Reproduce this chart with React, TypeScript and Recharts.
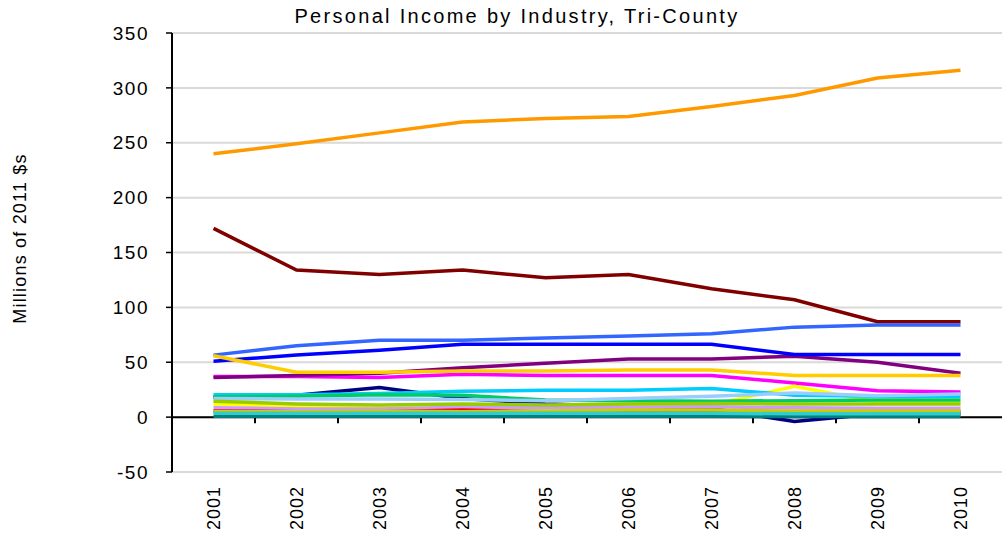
import { LineChart, Line, XAxis, YAxis, CartesianGrid, ReferenceLine } from 'recharts';

// Ingresos personales por industria, millones de $ de 2011
const years = ['2001', '2002', '2003', '2004', '2005', '2006', '2007', '2008', '2009', '2010'];
const yTicks = [-50, 0, 50, 100, 150, 200, 250, 300, 350];
const betweenTicks = [1, 2, 3, 4, 5, 6, 7, 8, 9];

const mining = [18, 20, 27, 17, 12, 10, 8, -4, 3, 3];
const retail = [37, 37, 36, 39, 38, 38, 38, 31, 24, 23];
const utilities = [12, 9.5, 9.5, 10, 10, 10, 11, 28, 13.5, 13];
const healthCare = [36, 38, 40, 45, 49, 53, 53, 55.5, 50, 40];
const farming = [172, 134, 130, 134, 127, 130, 117, 107, 87, 87];
const forestry = [0.8, 0.8, 0.8, 0.8, 0.8, 0.8, 0.8, 0.5, 0.5, 0.5];
const manufacturing = [51, 56.5, 61, 66.5, 66.5, 66.5, 66.5, 57, 57, 57];
const wholesale = [20.5, 20.5, 21.5, 23.5, 24.5, 24.5, 26, 20, 19, 19];
const transportation = [18.5, 19, 20.5, 20, 15.5, 15, 14.5, 15, 15.5, 15.5];
const finance = [17, 16.5, 16.5, 16, 15, 17, 19, 22, 19.5, 21];
const realEstate = [8.5, 7.5, 7.5, 9, 8.5, 9, 9.5, 8.5, 8, 8];
const information = [5.5, 5, 5, 6.5, 5, 5, 5, 5, 5, 5];
const professional = [5, 5, 5.5, 5, 5.5, 6.5, 6.5, 5.5, 5.5, 5.5];
const construction = [56.5, 65, 70, 70, 72, 74, 76, 82, 84, 84];
const arts = [3.5, 3.5, 3.5, 3.5, 3.5, 3.5, 3.5, 3, 3, 3];
const accommodation = [14.5, 12, 11, 12, 11, 12, 12.5, 12, 12, 12];
const otherServices = [56, 41, 41, 42, 42, 43, 43, 38, 38, 38];
const government = [240, 249, 259, 269, 272, 274, 283, 293, 309, 316];

const series = [
  { clave: 'mining', valores: mining, color: '#000080' },
  { clave: 'retail', valores: retail, color: '#FF00FF' },
  { clave: 'utilities', valores: utilities, color: '#FFFF00' },
  { clave: 'healthCare', valores: healthCare, color: '#800080' },
  { clave: 'farming', valores: farming, color: '#800000' },
  { clave: 'forestry', valores: forestry, color: '#008080' },
  { clave: 'manufacturing', valores: manufacturing, color: '#0000FF' },
  { clave: 'wholesale', valores: wholesale, color: '#00CCFF' },
  { clave: 'transportation', valores: transportation, color: '#00CC66' },
  { clave: 'finance', valores: finance, color: '#99CCFF' },
  { clave: 'realEstate', valores: realEstate, color: '#CC99FF' },
  { clave: 'information', valores: information, color: '#FF0000' },
  { clave: 'professional', valores: professional, color: '#CCCC00' },
  { clave: 'construction', valores: construction, color: '#3366FF' },
  { clave: 'arts', valores: arts, color: '#33CCCC' },
  { clave: 'accommodation', valores: accommodation, color: '#99CC00' },
  { clave: 'otherServices', valores: otherServices, color: '#FFCC00' },
  { clave: 'government', valores: government, color: '#FF9900' },
];

const datos = years.map((year, i) => {
  const fila: Record<string, any> = { year, marca: i + 0.5 };
  series.forEach((s) => {
    fila[s.clave] = s.valores[i];
  });
  return fila;
});

const fuente = '"Liberation Sans", Arial, sans-serif';

const YearTick = (props: any) => {
  const { x, y, payload } = props;
  return (
    <text
      x={x}
      y={y + 6}
      transform={`rotate(-90, ${x}, ${y + 6})`}
      textAnchor="end"
      dy="0.36em"
      fontSize={18}
      letterSpacing={1}
      fill="#000"
      fontFamily={fuente}
    >
      {payload.value}
    </text>
  );
};

export default function App() {
  return (
    <div style={{ position: 'absolute', left: 0, top: 0, width: 1002, height: 541, background: '#fff' }}>
      <div
        style={{
          position: 'absolute',
          top: 5,
          left: 16,
          width: 1002,
          textAlign: 'center',
          fontFamily: fuente,
          fontSize: 20,
          letterSpacing: 2.3,
          color: '#000',
        }}
      >
        Personal Income by Industry, Tri-County
      </div>
      <LineChart width={1002} height={541} data={datos} margin={{ top: 33, right: 0, bottom: 0, left: 0 }}>
        <CartesianGrid vertical={false} stroke="#d9d9d9" strokeWidth={2} />
        <XAxis
          dataKey="year"
          padding={{ left: 41.5, right: 41.5 }}
          axisLine={false}
          tickLine={false}
          height={69}
          tick={<YearTick />}
          interval={0}
        />
        <XAxis
          xAxisId="marcas"
          dataKey="marca"
          type="number"
          domain={[0, 10]}
          allowDataOverflow
          hide
        />
        <YAxis
          width={172}
          domain={[-50, 350]}
          ticks={yTicks}
          interval={0}
          axisLine={{ stroke: '#000', strokeWidth: 2 }}
          tickLine={{ stroke: '#000', strokeWidth: 1.5 }}
          tickSize={6}
          tickMargin={17}
          tick={{ fill: '#000', fontSize: 19, fontFamily: fuente, letterSpacing: 1.5 }}
          label={{
            value: 'Millions of 2011 $s',
            angle: -90,
            position: 'insideLeft',
            offset: 20,
            dy: -14,
            style: { textAnchor: 'middle', fontFamily: fuente, fontSize: 18, letterSpacing: 1.2, fill: '#000' },
          }}
        />
        <ReferenceLine y={0} stroke="#000" strokeWidth={2} />
        {betweenTicks.map((t) => (
          <ReferenceLine
            key={t}
            xAxisId="marcas"
            segment={[{ x: t, y: 0 }, { x: t, y: -5.5 }]}
            stroke="#000"
            strokeWidth={2}
            ifOverflow="visible"
          />
        ))}
        {series.map((s) => (
          <Line
            key={s.clave}
            type="linear"
            dataKey={s.clave}
            stroke={s.color}
            strokeWidth={3.5}
            dot={false}
            isAnimationActive={false}
          />
        ))}
      </LineChart>
    </div>
  );
}
